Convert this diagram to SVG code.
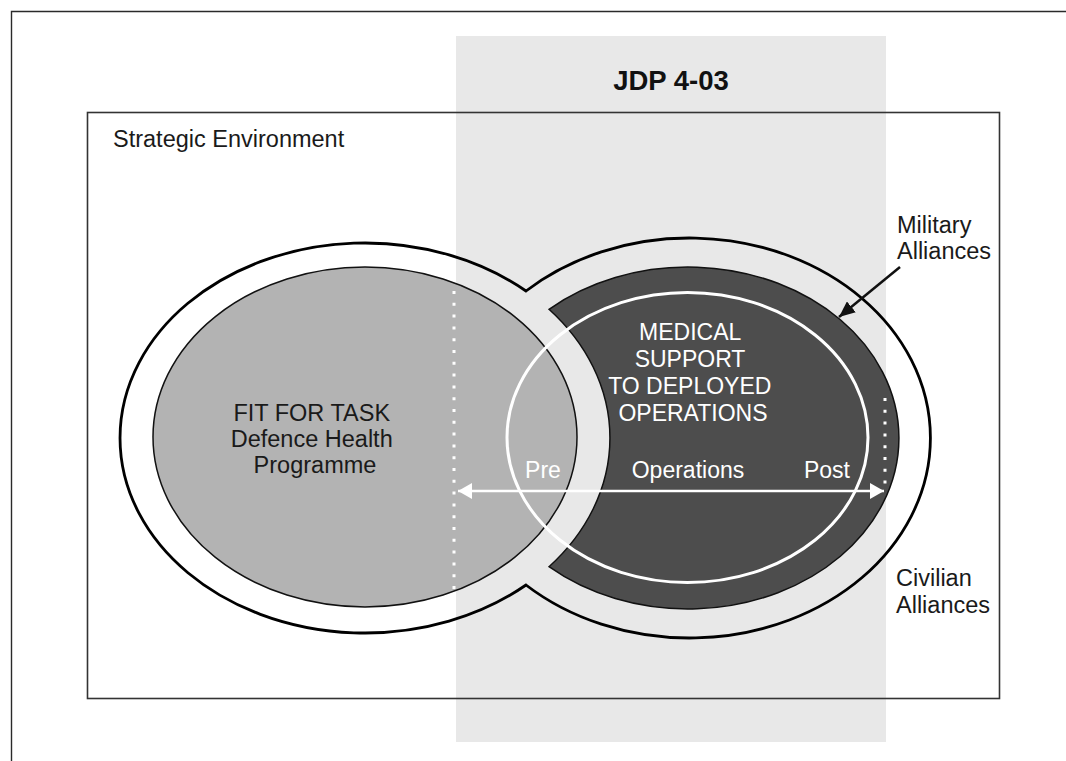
<svg xmlns="http://www.w3.org/2000/svg" width="1066" height="761" viewBox="0 0 1066 761">
  <style>
    .lbl { font-family: "Liberation Sans", Arial, sans-serif; font-size: 23.5px; fill: #1a1a1a; }
    .wlbl { font-family: "Liberation Sans", Arial, sans-serif; font-size: 23px; fill: #ffffff; }
    .title { font-family: "Liberation Sans", Arial, sans-serif; font-size: 27.5px; font-weight: bold; fill: #111; }
    .dots { stroke: #ffffff; stroke-width: 3; stroke-dasharray: 3 8.8; fill: none; }
  </style>
  <defs>
    <marker id="wArrow" viewBox="0 0 14 16" refX="14" refY="8" markerWidth="14" markerHeight="16" markerUnits="userSpaceOnUse" orient="auto-start-reverse">
      <path d="M0 0 L14 8 L0 16 Z" fill="#ffffff"/>
    </marker>
    <marker id="bArrow" viewBox="0 0 16 14" refX="16" refY="7" markerWidth="16" markerHeight="14" markerUnits="userSpaceOnUse" orient="auto">
      <path d="M0 0 L16 7 L0 14 Z" fill="#111"/>
    </marker>
  </defs>

  <rect width="1066" height="761" fill="#ffffff"/>

  <!-- page border (top and left edges) -->
  <path d="M1066 11.5 H11.5 V761" fill="none" stroke="#2a2a2a" stroke-width="1.4"/>

  <!-- doctrine band -->
  <rect id="band" x="456" y="36" width="430" height="706" fill="#e8e8e8"/>

  <!-- strategic environment frame -->
  <g id="strategic-environment">
    <rect x="87.5" y="112.5" width="912" height="586" fill="none" stroke="#333" stroke-width="1.6"/>
    <text class="lbl" x="113" y="147">Strategic Environment</text>
  </g>

  <text id="jdp" class="title" x="671" y="90" text-anchor="middle">JDP 4-03</text>

  <!-- alliance outline (union of two ellipses) -->
  <g id="alliances">
    <path d="M526 291 A241 200 0 1 1 526 585 A245 195 0 1 1 526 291 Z" fill="none" stroke="#000" stroke-width="2.8"/>
  </g>

  <!-- Fit for Task -->
  <g id="fit-for-task">
    <ellipse cx="365" cy="437" rx="212" ry="170" fill="#b3b3b3" stroke="#111" stroke-width="1.5"/>
    <text class="lbl" text-anchor="middle">
      <tspan x="315" y="421">FIT FOR TASK</tspan>
      <tspan x="315" y="447">Defence Health</tspan>
      <tspan x="315" y="473">Programme</tspan>
    </text>
  </g>

  <!-- Medical support to deployed operations -->
  <g id="medical-support">
    <path d="M549 309.3 A211 171 0 1 1 549 566.7 A245 195 0 0 0 549 309.3 Z" fill="#4d4d4d" stroke="#111" stroke-width="1.5"/>
    <ellipse cx="687.5" cy="437.5" rx="180.5" ry="145" fill="none" stroke="#ffffff" stroke-width="3"/>
    <text class="wlbl" text-anchor="middle">
      <tspan x="693" y="340">MEDICAL</tspan>
      <tspan x="693" y="367">SUPPORT</tspan>
      <tspan x="693" y="394">TO DEPLOYED</tspan>
      <tspan x="693" y="421">OPERATIONS</tspan>
    </text>
  </g>

  <!-- connectors -->
  <g id="connectors">
    <line class="dots" x1="454" y1="291" x2="454" y2="590"/>
    <line class="dots" x1="885" y1="398" x2="885" y2="486"/>
    <line x1="458" y1="491" x2="884" y2="491" stroke="#ffffff" stroke-width="2.5" marker-start="url(#wArrow)" marker-end="url(#wArrow)"/>
    <line x1="900" y1="267" x2="839" y2="317" stroke="#111" stroke-width="2.5" marker-end="url(#bArrow)"/>
  </g>

  <g id="phases">
    <text class="wlbl" x="543" y="478" text-anchor="middle">Pre</text>
    <text class="wlbl" x="688" y="478" text-anchor="middle">Operations</text>
    <text class="wlbl" x="827" y="478" text-anchor="middle">Post</text>
  </g>

  <g id="military-alliances">
    <text class="lbl"><tspan x="897" y="233">Military</tspan><tspan x="897" y="259">Alliances</tspan></text>
  </g>
  <g id="civilian-alliances">
    <text class="lbl"><tspan x="896" y="586">Civilian</tspan><tspan x="896" y="613">Alliances</tspan></text>
  </g>
</svg>
